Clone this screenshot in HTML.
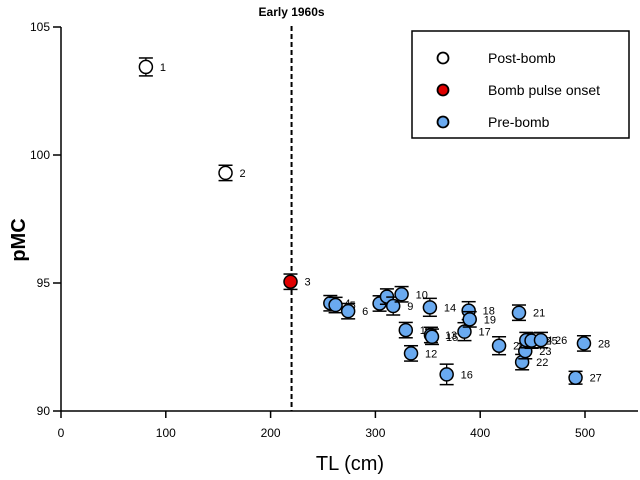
<!DOCTYPE html>
<html><head><meta charset="utf-8"><style>
body{margin:0;background:#fff;}
svg{display:block;font-family:"Liberation Sans",Arial,sans-serif;}
</style></head><body>
<svg id="chart" width="640" height="480" viewBox="0 0 640 480">
<g id="axes"></g>
<g id="marks"></g>
<g id="legend">
<rect x="412" y="31" width="217" height="107" fill="#fff" stroke="#000" stroke-width="1.5"/>
<circle cx="443" cy="58" r="5.5" fill="#fff" stroke="#000" stroke-width="1.8"/>
<text x="488" y="63" font-size="14">Post-bomb</text>
<circle cx="443" cy="90" r="5.5" fill="#e00000" stroke="#000" stroke-width="1.8"/>
<text x="488" y="95" font-size="14">Bomb pulse onset</text>
<circle cx="443" cy="122" r="5.5" fill="#6aaaf0" stroke="#000" stroke-width="1.8"/>
<text x="488" y="127" font-size="14">Pre-bomb</text>
</g>
</svg>
<script>
const ids=[1,2,3,4,5,6,7,8,9,10,11,12,13,14,15,16,17,18,19,20,21,22,23,24,25,26,27,28];
const tl=[81,157,219,257,262,274,304,311,317,325,329,334,353,352,354,368,385,389,390,418,437,440,443,444,449,458,491,499];
const pmc=[103.44,99.3,95.05,94.21,94.14,93.9,94.2,94.47,94.1,94.56,93.16,92.25,92.97,94.05,92.9,91.43,93.1,93.92,93.58,92.55,93.84,91.91,92.34,92.77,92.75,92.77,91.3,92.64];
const err=[0.35,0.3,0.3,0.3,0.3,0.3,0.3,0.3,0.35,0.3,0.3,0.3,0.3,0.35,0.3,0.4,0.35,0.35,0.3,0.35,0.3,0.3,0.3,0.3,0.3,0.3,0.25,0.3];
const groups=['post','post','onset','pre','pre','pre','pre','pre','pre','pre','pre','pre','pre','pre','pre','pre','pre','pre','pre','pre','pre','pre','pre','pre','pre','pre','pre','pre'];
const xTicks=[0,100,200,300,400,500];
const yTicks=[90,95,100,105];
const markerLine=220;

const NS='http://www.w3.org/2000/svg';
const X0=61,XS=1.048,Y0=411,YS=25.6;
function sx(v){return X0+v*XS;}
function sy(v){return Y0-(v-90)*YS;}
function mk(tag,attrs,parent,txt){const e=document.createElementNS(NS,tag);for(const k in attrs)e.setAttribute(k,attrs[k]);if(txt!==undefined)e.textContent=txt;parent.appendChild(e);return e;}
const axes=document.getElementById('axes'),marks=document.getElementById('marks');
let e;
e=mk('line',{x1:X0,y1:sy(105),x2:X0,y2:Y0,stroke:'#000','stroke-width':1.5},axes);


e=mk('line',{x1:X0,y1:Y0,x2:638,y2:Y0,stroke:'#000','stroke-width':1.5},axes);


xTicks.forEach(t=>{
  e=mk('line',{x1:sx(t),y1:Y0,x2:sx(t),y2:Y0+7,stroke:'#000','stroke-width':1.5},axes);
  
  
  e=mk('text',{x:sx(t),y:Y0+26,'font-size':12,'text-anchor':'middle'},axes,String(t));
  
  
});
yTicks.forEach(t=>{
  e=mk('line',{x1:X0-8,y1:sy(t),x2:X0,y2:sy(t),stroke:'#000','stroke-width':1.5},axes);
  
  
  e=mk('text',{x:X0-11,y:sy(t)+4,'font-size':12,'text-anchor':'end'},axes,String(t));
  
  
});
e=mk('text',{x:350,y:470,'font-size':20,'text-anchor':'middle'},axes,'TL (cm)');


e=mk('text',{x:0,y:0,'font-size':20,'font-weight':'bold','text-anchor':'middle',transform:'translate(25,240) rotate(-90)'},axes,'pMC');


e=mk('line',{x1:sx(markerLine),y1:26,x2:sx(markerLine),y2:Y0,stroke:'#000','stroke-width':2,'stroke-dasharray':'5,3'},axes);


e=mk('text',{x:sx(markerLine),y:16,'font-size':12,'font-weight':'bold','text-anchor':'middle'},axes,'Early 1960s');


const fills={post:'#fff',onset:'#e00000',pre:'#6aaaf0'};
ids.forEach((id,i)=>{
  const cx=sx(tl[i]),cy=sy(pmc[i]),t=sy(pmc[i]+err[i]),b=sy(pmc[i]-err[i]);
  const g=mk('g',{},marks);
  
  
  mk('line',{x1:cx,y1:t,x2:cx,y2:b,stroke:'#000','stroke-width':1.3},g);
  mk('line',{x1:cx-7,y1:t,x2:cx+7,y2:t,stroke:'#000','stroke-width':1.5},g);
  mk('line',{x1:cx-7,y1:b,x2:cx+7,y2:b,stroke:'#000','stroke-width':1.5},g);
  mk('circle',{cx:cx,cy:cy,r:6.5,fill:fills[groups[i]],stroke:'#000','stroke-width':1.5},g);
  mk('text',{x:cx+14,y:cy+4,'font-size':11},g,String(id));
});
</script>
</body></html>
